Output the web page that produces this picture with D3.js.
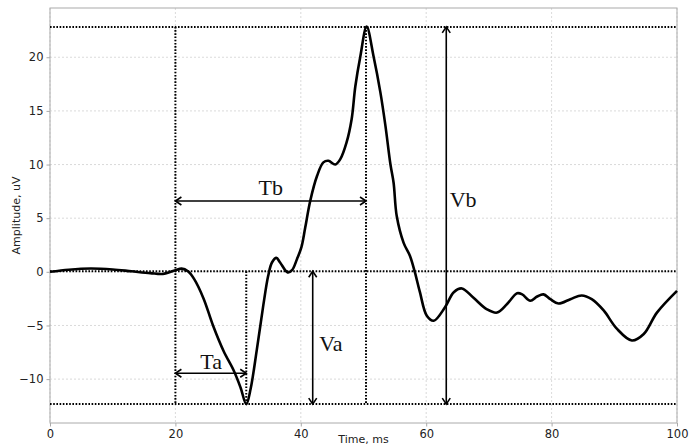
<!DOCTYPE html>
<html>
<head>
<meta charset="utf-8">
<script src="https://cdn.jsdelivr.net/npm/d3@7"></script>
<style>
  body { margin: 0; background: #fff; }
  svg { display: block; font-family: "DejaVu Sans", sans-serif; }
  .grid line { stroke: #d0d0d0; stroke-width: 0.8; stroke-dasharray: 2,2; }
  .lbl { font-family: "Liberation Serif", "Times New Roman", serif; font-size: 22px; fill: #111; }
</style>
</head>
<body>
<svg id="chart" width="698" height="447"></svg>
<script>
// waveform samples (ms, uV)
const times = [0, 3, 6.5, 10, 13, 16, 18, 20, 21, 22, 23, 24.5, 26, 27.7, 29.3, 30.4, 31.3, 32, 33, 34,
  34.8, 35.4, 36.1, 36.7, 37.9, 38.6, 39.4, 40.1, 40.7, 41.5, 42.6, 43.6, 44.4, 45.5, 46.3, 47.3, 48.1,
  48.7, 49.5, 50.5, 51.6, 52.7, 53.5, 54.3, 54.8, 55.3, 56.4, 57.4, 58.2, 59.0, 60.1, 61.2, 63.0, 64.4,
  65.7, 67.5, 69.7, 71.3, 72.9, 74.5, 75.3, 76.6, 77.7, 78.7, 79.8, 81.1, 83.0, 84.8, 86.4, 88.3, 90.4,
  92.8, 94.7, 96.8, 100];
const amps = [0, 0.2, 0.31, 0.22, 0.05, -0.12, -0.2, 0.15, 0.3, 0.05, -0.68, -2.5, -5.0, -7.4, -9.2, -10.8, -12.33, -10.9, -7.2, -3.2,
  -0.37, 0.87, 1.3, 0.87, -0.05, 0.15, 1.2, 2.3, 4.1, 6.6, 8.95, 10.2, 10.35, 10.0, 10.5, 12.06, 14.2,
  17.3, 20.1, 22.85, 20.1, 16.7, 13.6, 10.0, 8.3, 5.2, 2.7, 1.5, -0.05, -1.9, -4.1, -4.56, -3.3, -1.9,
  -1.55, -2.4, -3.5, -3.8, -3.0, -2.0, -2.1, -2.7, -2.3, -2.1, -2.55, -2.95, -2.55, -2.2, -2.55, -3.6, -5.3,
  -6.4, -5.8, -3.8, -1.77];

const xTicks = [0, 20, 40, 60, 80, 100];
const yTicks = [-10, -5, 0, 5, 10, 15, 20];

// annotation levels
const levelTop = 22.83, levelBase = 0.05, levelMin = -12.33;
const tStart = 20, tMin = 31.3, tPeak = 50.4;
const tVa = 41.9, tVb = 63.2;
const vTb = 6.6, vTa = -9.45;
const labels = [
  { text: "Tb", t: 35.2, v: 7.9 },
  { text: "Ta", t: 25.7, v: -8.3 },
  { text: "Va", t: 44.8, v: -6.7 },
  { text: "Vb", t: 65.9, v: 6.8 }
];

const svg = d3.select("#chart");
const pLeft = 50, pRight = 677, pTop = 8, pBottom = 423;

const x = d3.scaleLinear().domain([0, 100]).range([pLeft, pRight]);
const y = d3.scaleLinear().domain([-14.09, 24.59]).range([pBottom, pTop]);

// grid
const grid = svg.append("g").attr("class", "grid");
grid.selectAll(".gx").data(xTicks).enter().append("line")
  .attr("x1", d => x(d)).attr("x2", d => x(d)).attr("y1", pTop).attr("y2", pBottom);
grid.selectAll(".gy").data(yTicks).enter().append("line")
  .attr("x1", pLeft).attr("x2", pRight).attr("y1", d => y(d)).attr("y2", d => y(d));

// axes
const xAxis = svg.append("g").attr("transform", `translate(0,${pBottom})`)
  .call(d3.axisBottom(x).tickValues(xTicks).tickSize(3.5).tickPadding(3).tickSizeOuter(0));
const yAxis = svg.append("g").attr("transform", `translate(${pLeft},0)`)
  .call(d3.axisLeft(y).tickValues(yTicks).tickSize(3.5).tickPadding(3).tickSizeOuter(0)
    .tickFormat(d => d < 0 ? "\u2212" + Math.abs(d) : d));
[xAxis, yAxis].forEach(a => {
  a.select(".domain").remove();
  a.selectAll(".tick line").attr("stroke", "#aaa");
  a.selectAll(".tick text").attr("fill", "#222").style("font-size", "11.5px")
    .style("font-family", "DejaVu Sans, sans-serif");
});

// spines
svg.append("rect").attr("x", pLeft).attr("y", pTop)
  .attr("width", pRight - pLeft).attr("height", pBottom - pTop)
  .attr("fill", "none").attr("stroke", "#aaa").attr("stroke-width", 1);

svg.append("text").attr("x", (pLeft + pRight) / 2).attr("y", 443)
  .attr("text-anchor", "middle").style("font-size", "11px").attr("fill", "#222").text("Time, ms");
svg.append("text").attr("transform", `translate(20,${(pTop + pBottom) / 2}) rotate(-90)`)
  .attr("text-anchor", "middle").style("font-size", "11px").attr("fill", "#222").text("Amplitude, uV");

// waveform
const pts = times.map((t, i) => [t, amps[i]]);
svg.append("path").datum(pts)
  .attr("fill", "none").attr("stroke", "#000").attr("stroke-width", 2.6)
  .attr("stroke-linejoin", "round")
  .attr("d", d3.line().x(d => x(d[0])).y(d => y(d[1])).curve(d3.curveCatmullRom.alpha(0.5)));

// dotted guides
const dots = svg.append("g").attr("stroke", "#000").attr("stroke-width", 2)
  .attr("stroke-dasharray", "1.6,1.6").attr("fill", "none");
[levelTop, levelBase, levelMin].forEach(v => {
  dots.append("line").attr("x1", pLeft).attr("x2", pRight).attr("y1", y(v)).attr("y2", y(v));
});
[[tStart, levelTop], [tMin, levelBase], [tPeak, levelTop]].forEach(([t, v]) => {
  dots.append("line").attr("x1", x(t)).attr("x2", x(t)).attr("y1", y(v)).attr("y2", y(levelMin));
});

// arrows
const defs = svg.append("defs");
defs.append("marker").attr("id", "head").attr("viewBox", "-10 -6 12 12")
  .attr("refX", 0).attr("refY", 0).attr("markerWidth", 12).attr("markerHeight", 12)
  .attr("markerUnits", "userSpaceOnUse").attr("orient", "auto-start-reverse")
  .append("path").attr("d", "M-6,-4 L0,0 L-6,4").attr("fill", "none")
  .attr("stroke", "#000").attr("stroke-width", 1.6);

const arrows = [
  [x(tStart), y(vTb), x(tPeak), y(vTb)],
  [x(tStart), y(vTa), x(tMin), y(vTa)],
  [x(tVa), y(levelBase), x(tVa), y(levelMin)],
  [x(tVb), y(levelTop), x(tVb), y(levelMin)]
];
svg.selectAll(".arrow").data(arrows).enter().append("line")
  .attr("x1", d => d[0]).attr("y1", d => d[1]).attr("x2", d => d[2]).attr("y2", d => d[3])
  .attr("stroke", "#000").attr("stroke-width", 1.6)
  .attr("marker-start", "url(#head)").attr("marker-end", "url(#head)");

svg.selectAll(".lbl").data(labels).enter().append("text").attr("class", "lbl")
  .attr("x", d => x(d.t)).attr("y", d => y(d.v)).attr("dy", "0.35em")
  .attr("text-anchor", "middle").text(d => d.text);
</script>
</body>
</html>
